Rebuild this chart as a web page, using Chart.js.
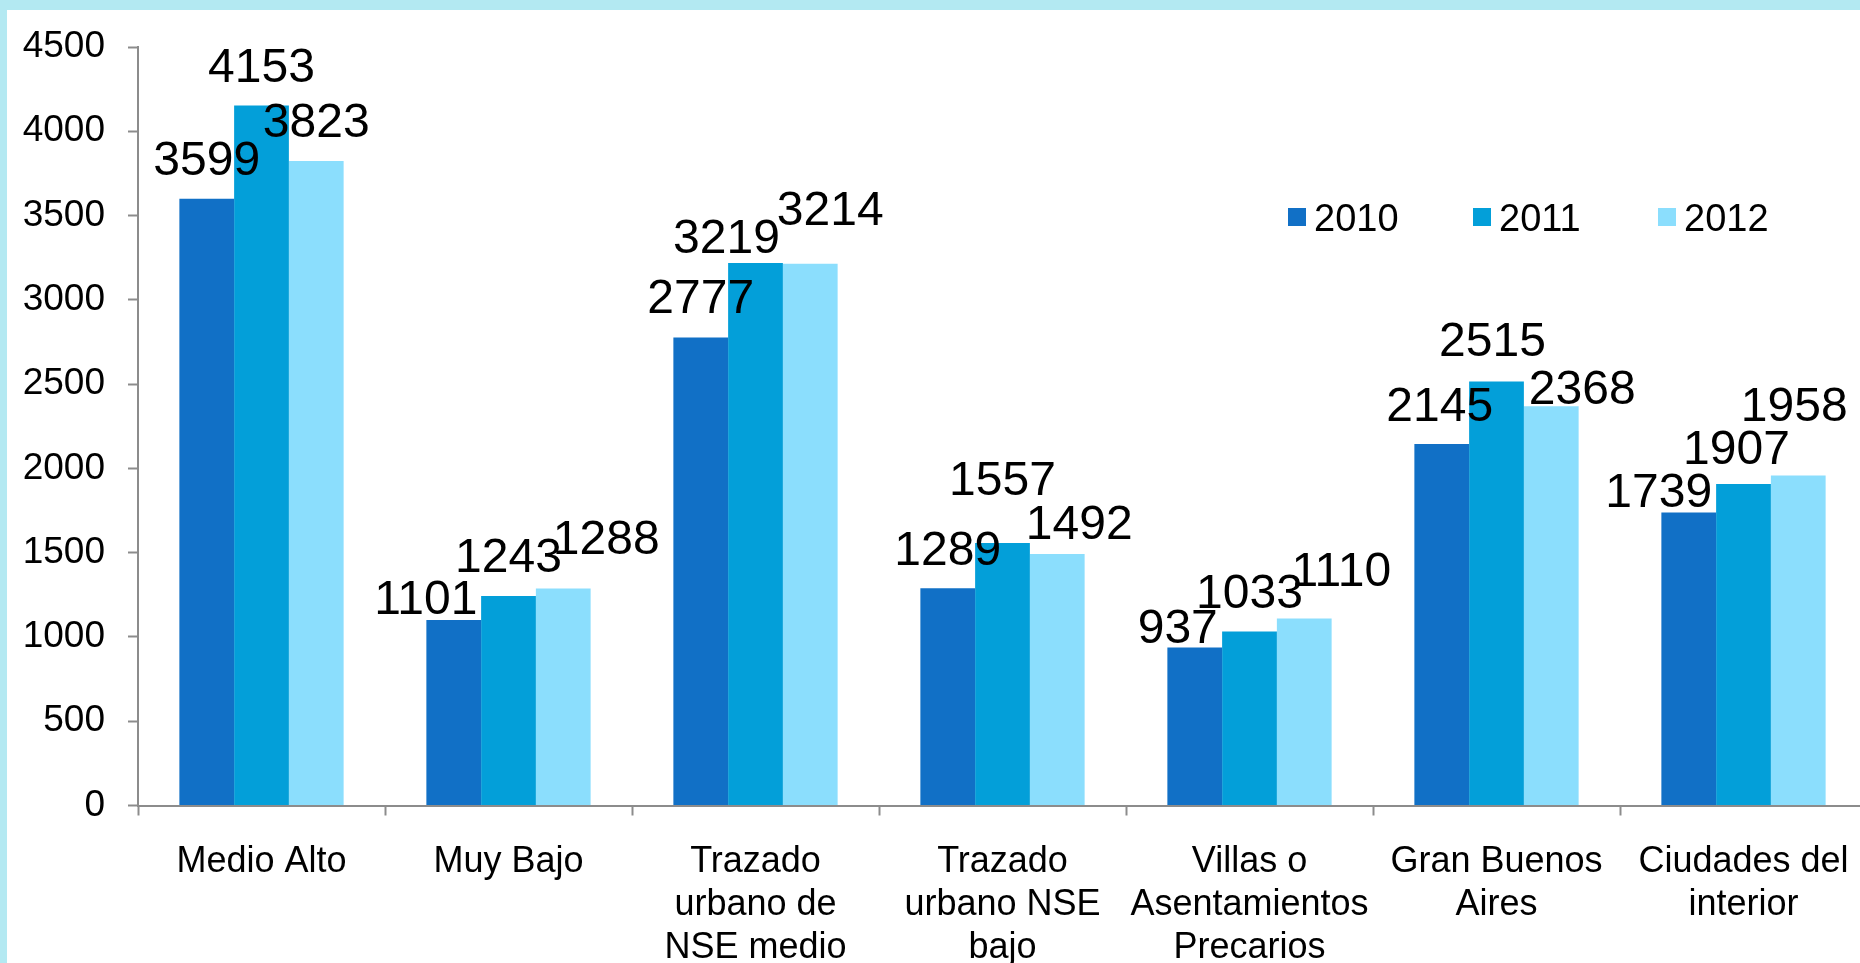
<!DOCTYPE html>
<html>
<head>
<meta charset="utf-8">
<script src="https://cdn.jsdelivr.net/npm/chart.js@4.4.1/dist/chart.umd.min.js"></script>
<style>
    html, body {
        margin: 0;
        padding: 0;
        width: 1860px;
        height: 963px;
        overflow: hidden;
        background: #B3E9F2;
    }
    #panel {
        position: absolute;
        left: 7px;
        top: 10px;
        width: 1860px;
        height: 953px;
        background: #ffffff;
    }
</style>
</head>
<body>
<div id="panel"><canvas id="chart"></canvas></div>
<script>
// Data
const categories = [
    ["Medio Alto"],
    ["Muy Bajo"],
    ["Trazado", "urbano de", "NSE medio"],
    ["Trazado", "urbano NSE", "bajo"],
    ["Villas o", "Asentamientos", "Precarios"],
    ["Gran Buenos", "Aires"],
    ["Ciudades del", "interior"]
];
const years = ["2010", "2011", "2012"];
const values2010 = [3599, 1101, 2777, 1289, 937, 2145, 1739];
const values2011 = [4153, 1243, 3219, 1557, 1033, 2515, 1907];
const values2012 = [3823, 1288, 3214, 1492, 1110, 2368, 1958];
const yTicks = [0, 500, 1000, 1500, 2000, 2500, 3000, 3500, 4000, 4500];

const colors = ["#1170C6", "#039FD9", "#8BDEFD"];
const FONT = '"Liberation Sans", Arial, sans-serif';
const AXIS = "#8c8c8c";

// label nudges [dx, gap above bar] - the original labels were moved by hand to avoid overlaps
const labelNudge = {
    "2010": [[0, 24], [-28, 6], [0, 24], [0, 23], [-17, 5], [-2, 23], [-30, 5]],
    "2011": [[0, 23], [0, 24], [-29, 10], [0, 48], [0, 23], [-4, 26], [-7, 20]],
    "2012": [[0, 24], [43, 34], [20, 39], [22, 15], [37, 32], [31, 2], [-4, 54]]
};

const barLabels = {
    id: "barLabels",
    afterDatasetsDraw(chart) {
        const ctx = chart.ctx;
        ctx.save();
        ctx.font = "48px " + FONT;
        ctx.fillStyle = "#000";
        ctx.textAlign = "center";
        ctx.textBaseline = "alphabetic";
        chart.data.datasets.forEach((ds, i) => {
            const meta = chart.getDatasetMeta(i);
            const nudge = labelNudge[ds.label];
            meta.data.forEach((bar, j) => {
                ctx.fillText(String(ds.data[j]), bar.x + nudge[j][0], bar.y - nudge[j][1]);
            });
        });
        ctx.restore();
    }
};

// simple legend inside the plot, like the original
const insideLegend = {
    id: "insideLegend",
    afterDraw(chart) {
        const ctx = chart.ctx;
        ctx.save();
        ctx.font = "38px " + FONT;
        ctx.textBaseline = "alphabetic";
        ctx.textAlign = "left";
        chart.data.datasets.forEach((ds, i) => {
            const x = 1281 + i * 185;
            const y = 207;
            ctx.fillStyle = ds.backgroundColor;
            ctx.fillRect(x, y - 9, 18, 18);
            ctx.fillStyle = "#000";
            ctx.fillText(ds.label, x + 26, 221);
        });
        ctx.restore();
    }
};

const seriesValues = [values2010, values2011, values2012];

new Chart(document.getElementById("chart"), {
    type: "bar",
    data: {
        labels: categories,
        datasets: years.map((y, i) => ({
            label: y,
            data: seriesValues[i],
            backgroundColor: colors[i],
            borderWidth: 0,
            barPercentage: 1,
            categoryPercentage: 0.665
        }))
    },
    options: {
        responsive: true,
        maintainAspectRatio: false,
        animation: false,
        layout: { padding: { top: 37, left: 0, right: 0, bottom: 0 } },
        plugins: {
            legend: { display: false },
            tooltip: { enabled: false }
        },
        scales: {
            x: {
                grid: {
                    display: true,
                    offset: true,
                    drawOnChartArea: false,
                    drawTicks: true,
                    tickLength: 10,
                    tickColor: AXIS,
                    tickWidth: 2
                },
                border: { display: true, color: AXIS, width: 2 },
                ticks: {
                    color: "#000",
                    font: { family: FONT, size: 36, lineHeight: 1.2 },
                    padding: 25,
                    maxRotation: 0,
                    autoSkip: false
                },
                afterFit(scale) {
                    scale.height = 157.5;
                    scale.paddingLeft = 0;
                    scale.paddingRight = 0;
                }
            },
            y: {
                min: 0,
                max: 4500,
                afterBuildTicks(scale) { scale.ticks = yTicks.map(v => ({ value: v })); },
                grid: {
                    display: true,
                    drawOnChartArea: false,
                    drawTicks: true,
                    tickLength: 10,
                    tickColor: AXIS,
                    tickWidth: 2
                },
                border: { display: true, color: AXIS, width: 2 },
                ticks: {
                    color: "#000",
                    font: { family: FONT, size: 37 },
                    padding: 23,
                    callback: v => String(v)
                },
                afterFit(scale) {
                    scale.width = 131;
                    scale.paddingTop = 0;
                    scale.paddingBottom = 0;
                }
            }
        }
    },
    plugins: [barLabels, insideLegend]
});
</script>
</body>
</html>
